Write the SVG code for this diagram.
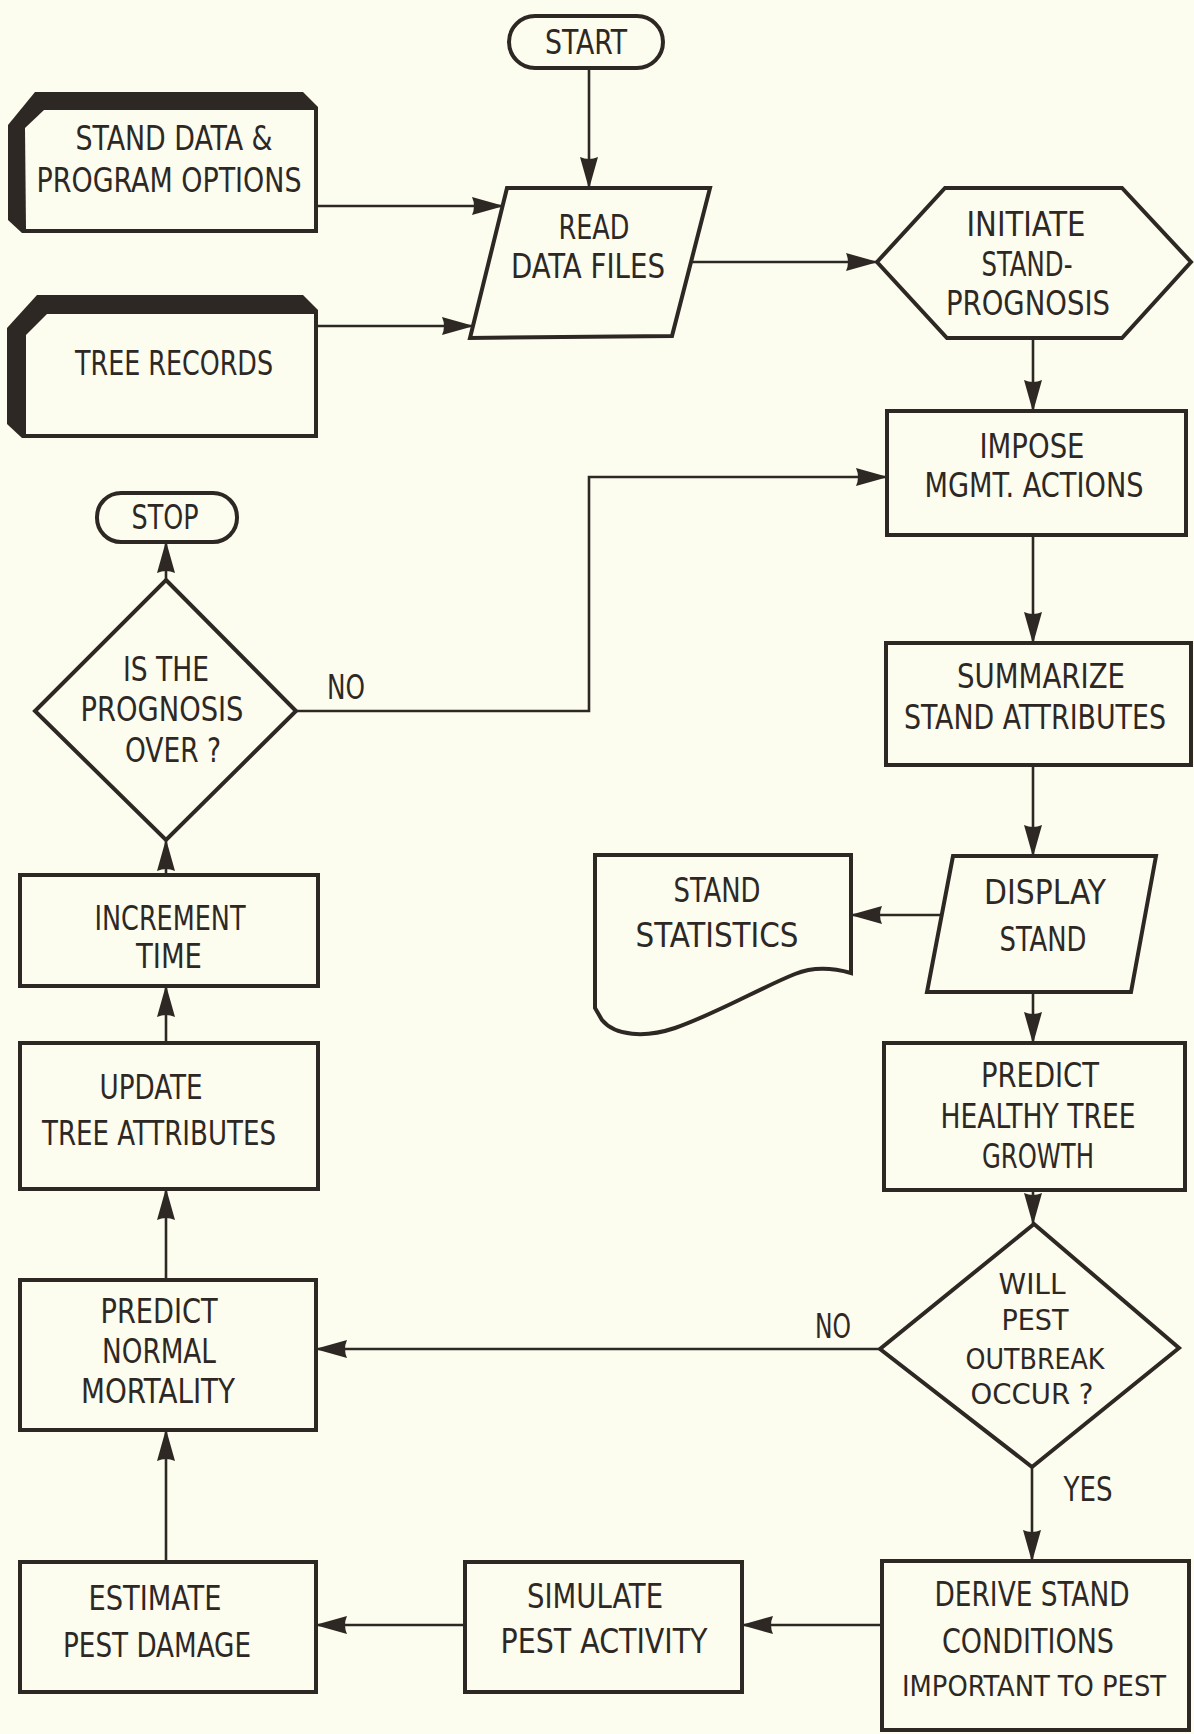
<svg xmlns="http://www.w3.org/2000/svg" width="1194" height="1734" viewBox="0 0 1194 1734">
  <style>
    .bg { fill: #fcfcef; }
    .shape { fill: #fcfcef; stroke: #2e2824; stroke-width: 4; stroke-linejoin: miter; }
    .card-back { fill: #2e2824; }
    .card-face { fill: #fcfcef; }
    .link { fill: none; stroke: #2e2824; stroke-width: 2.6; marker-end: url(#arrow); }
    text { font-family: "DejaVu Sans Condensed", "DejaVu Sans", sans-serif; font-stretch: condensed; font-size: 33px; fill: #2e2824; text-anchor: middle; }
    .tight text, text.tight { font-size: 29px; }
  </style>
  <defs>
    <!-- long wedge arrowhead used on every flow line -->
    <marker id="arrow" viewBox="0 0 32 20" refX="31" refY="10" markerWidth="32" markerHeight="20" markerUnits="userSpaceOnUse" orient="auto">
      <path d="M0,1 Q4,10 0,19 L32,10 Z" fill="#2e2824"/>
    </marker>
  </defs>

  <rect class="bg" x="0" y="0" width="1194" height="1734"/>

  <!-- flow lines and branch labels -->
  <g id="connectors">
    <path class="link" d="M589,68 V188"/>
    <path class="link" d="M318,206 H503"/>
    <path class="link" d="M318,326 H473"/>
    <path class="link" d="M692,262 H877"/>
    <path class="link" d="M1033,338 V411"/>
    <path class="link" d="M1033,535 V643"/>
    <path class="link" d="M1033,765 V856"/>
    <path class="link" d="M942,915 H851"/>
    <path class="link" d="M1033,992 V1043"/>
    <path class="link" d="M1033,1190 V1224"/>
    <path class="link" d="M1032,1467 V1561"/>
    <path class="link" d="M880,1349 H316"/>
    <path class="link" d="M882,1625 H742"/>
    <path class="link" d="M465,1625 H316"/>
    <path class="link" d="M166,1562 V1430"/>
    <path class="link" d="M166,1280 V1189"/>
    <path class="link" d="M166,1043 V986"/>
    <path class="link" d="M166,875 V840"/>
    <path class="link" d="M166,580 V542"/>
    <path class="link" d="M296,711 H589 V477 H887"/>
    <text x="346" y="699" textLength="38" lengthAdjust="spacingAndGlyphs">NO</text>
    <text x="833" y="1338" textLength="36" lengthAdjust="spacingAndGlyphs">NO</text>
    <text x="1088" y="1501" textLength="49" lengthAdjust="spacingAndGlyphs">YES</text>
  </g>

  <g id="start">
    <rect class="shape" x="509" y="16" width="154" height="52" rx="26"/>
    <text x="586" y="54" textLength="82" lengthAdjust="spacingAndGlyphs">START</text>
  </g>

  <g id="stand-data">
    <polygon class="card-back" points="8,125 35,92 303,92 318,107 318,233 22,233 8,220"/>
    <polygon class="card-face" points="25,128 44,110 314,110 314,229 26,229"/>
    <text x="174" y="150" textLength="197" lengthAdjust="spacingAndGlyphs">STAND DATA &amp;</text>
    <text x="169" y="192" textLength="265" lengthAdjust="spacingAndGlyphs">PROGRAM OPTIONS</text>
  </g>

  <g id="tree-records">
    <polygon class="card-back" points="7,328 37,295 303,295 318,310 318,438 22,438 7,424"/>
    <polygon class="card-face" points="26,335 47,314 314,314 314,434 26,434"/>
    <text x="174" y="375" textLength="198" lengthAdjust="spacingAndGlyphs">TREE RECORDS</text>
  </g>

  <g id="read-data">
    <polygon class="shape" points="507,188 710,188 672,336 470,338"/>
    <text x="594" y="239" textLength="71" lengthAdjust="spacingAndGlyphs">READ</text>
    <text x="588" y="278" textLength="154" lengthAdjust="spacingAndGlyphs">DATA FILES</text>
  </g>

  <g id="initiate">
    <polygon class="shape" points="877,262 945,188 1122,188 1191,262 1122,338 947,338"/>
    <text x="1026" y="236" textLength="119" lengthAdjust="spacingAndGlyphs">INITIATE</text>
    <text x="1027" y="276" textLength="91" lengthAdjust="spacingAndGlyphs">STAND-</text>
    <text x="1028" y="315" textLength="164" lengthAdjust="spacingAndGlyphs">PROGNOSIS</text>
  </g>

  <g id="impose">
    <rect class="shape" x="887" y="411" width="299" height="124"/>
    <text x="1032" y="458" textLength="105" lengthAdjust="spacingAndGlyphs">IMPOSE</text>
    <text x="1034" y="497" textLength="219" lengthAdjust="spacingAndGlyphs">MGMT. ACTIONS</text>
  </g>

  <g id="summarize">
    <rect class="shape" x="886" y="643" width="305" height="122"/>
    <text x="1041" y="688" textLength="168" lengthAdjust="spacingAndGlyphs">SUMMARIZE</text>
    <text x="1035" y="729" textLength="262" lengthAdjust="spacingAndGlyphs">STAND ATTRIBUTES</text>
  </g>

  <g id="display-stand">
    <polygon class="shape" points="953,856 1156,856 1131,992 927,992"/>
    <text x="1045" y="904" textLength="122" lengthAdjust="spacingAndGlyphs">DISPLAY</text>
    <text x="1043" y="951" textLength="87" lengthAdjust="spacingAndGlyphs">STAND</text>
  </g>

  <g id="stand-statistics">
    <path class="shape" d="M595,855 H851 V973 C830,967 812,967 795,974 C760,988 720,1012 675,1028 C645,1038 615,1036 602,1020 L595,1008 Z"/>
    <text x="717" y="902" textLength="87" lengthAdjust="spacingAndGlyphs">STAND</text>
    <text x="717" y="947" textLength="163" lengthAdjust="spacingAndGlyphs">STATISTICS</text>
  </g>

  <g id="predict-growth">
    <rect class="shape" x="884" y="1043" width="301" height="147"/>
    <text x="1040" y="1087" textLength="118" lengthAdjust="spacingAndGlyphs">PREDICT</text>
    <text x="1038" y="1128" textLength="195" lengthAdjust="spacingAndGlyphs">HEALTHY TREE</text>
    <text x="1038" y="1168" textLength="112" lengthAdjust="spacingAndGlyphs">GROWTH</text>
  </g>

  <g id="outbreak-decision" class="tight">
    <polygon class="shape" points="1034,1224 1179,1348 1032,1467 880,1349"/>
    <text x="1032" y="1294" textLength="67" lengthAdjust="spacingAndGlyphs">WILL</text>
    <text x="1035" y="1330" textLength="67" lengthAdjust="spacingAndGlyphs">PEST</text>
    <text x="1035" y="1369" textLength="139" lengthAdjust="spacingAndGlyphs">OUTBREAK</text>
    <text x="1032" y="1404" textLength="123" lengthAdjust="spacingAndGlyphs">OCCUR ?</text>
  </g>

  <g id="derive-conditions">
    <rect class="shape" x="882" y="1561" width="307" height="169"/>
    <text x="1032" y="1606" textLength="195" lengthAdjust="spacingAndGlyphs">DERIVE STAND</text>
    <text x="1028" y="1653" textLength="172" lengthAdjust="spacingAndGlyphs">CONDITIONS</text>
    <text class="tight" x="1034" y="1696" textLength="264" lengthAdjust="spacingAndGlyphs">IMPORTANT TO PEST</text>
  </g>

  <g id="simulate">
    <rect class="shape" x="465" y="1562" width="277" height="130"/>
    <text x="595" y="1608" textLength="136" lengthAdjust="spacingAndGlyphs">SIMULATE</text>
    <text x="604" y="1653" textLength="207" lengthAdjust="spacingAndGlyphs">PEST ACTIVITY</text>
  </g>

  <g id="estimate">
    <rect class="shape" x="20" y="1562" width="296" height="130"/>
    <text x="155" y="1610" textLength="133" lengthAdjust="spacingAndGlyphs">ESTIMATE</text>
    <text x="157" y="1657" textLength="188" lengthAdjust="spacingAndGlyphs">PEST DAMAGE</text>
  </g>

  <g id="predict-mortality">
    <rect class="shape" x="20" y="1280" width="296" height="150"/>
    <text x="159" y="1323" textLength="117" lengthAdjust="spacingAndGlyphs">PREDICT</text>
    <text x="159" y="1363" textLength="114" lengthAdjust="spacingAndGlyphs">NORMAL</text>
    <text x="158" y="1403" textLength="154" lengthAdjust="spacingAndGlyphs">MORTALITY</text>
  </g>

  <g id="update">
    <rect class="shape" x="20" y="1043" width="298" height="146"/>
    <text x="151" y="1099" textLength="103" lengthAdjust="spacingAndGlyphs">UPDATE</text>
    <text x="159" y="1145" textLength="234" lengthAdjust="spacingAndGlyphs">TREE ATTRIBUTES</text>
  </g>

  <g id="increment">
    <rect class="shape" x="20" y="875" width="298" height="111"/>
    <text x="170" y="930" textLength="151" lengthAdjust="spacingAndGlyphs">INCREMENT</text>
    <text x="169" y="968" textLength="66" lengthAdjust="spacingAndGlyphs">TIME</text>
  </g>

  <g id="over-decision">
    <polygon class="shape" points="166,580 296,711 166,840 35,711"/>
    <text x="166" y="681" textLength="86" lengthAdjust="spacingAndGlyphs">IS THE</text>
    <text x="162" y="721" textLength="163" lengthAdjust="spacingAndGlyphs">PROGNOSIS</text>
    <text x="173" y="762" textLength="96" lengthAdjust="spacingAndGlyphs">OVER ?</text>
  </g>

  <g id="stop">
    <rect class="shape" x="97" y="493" width="140" height="49" rx="24"/>
    <text x="165" y="529" textLength="67" lengthAdjust="spacingAndGlyphs">STOP</text>
  </g>
</svg>
